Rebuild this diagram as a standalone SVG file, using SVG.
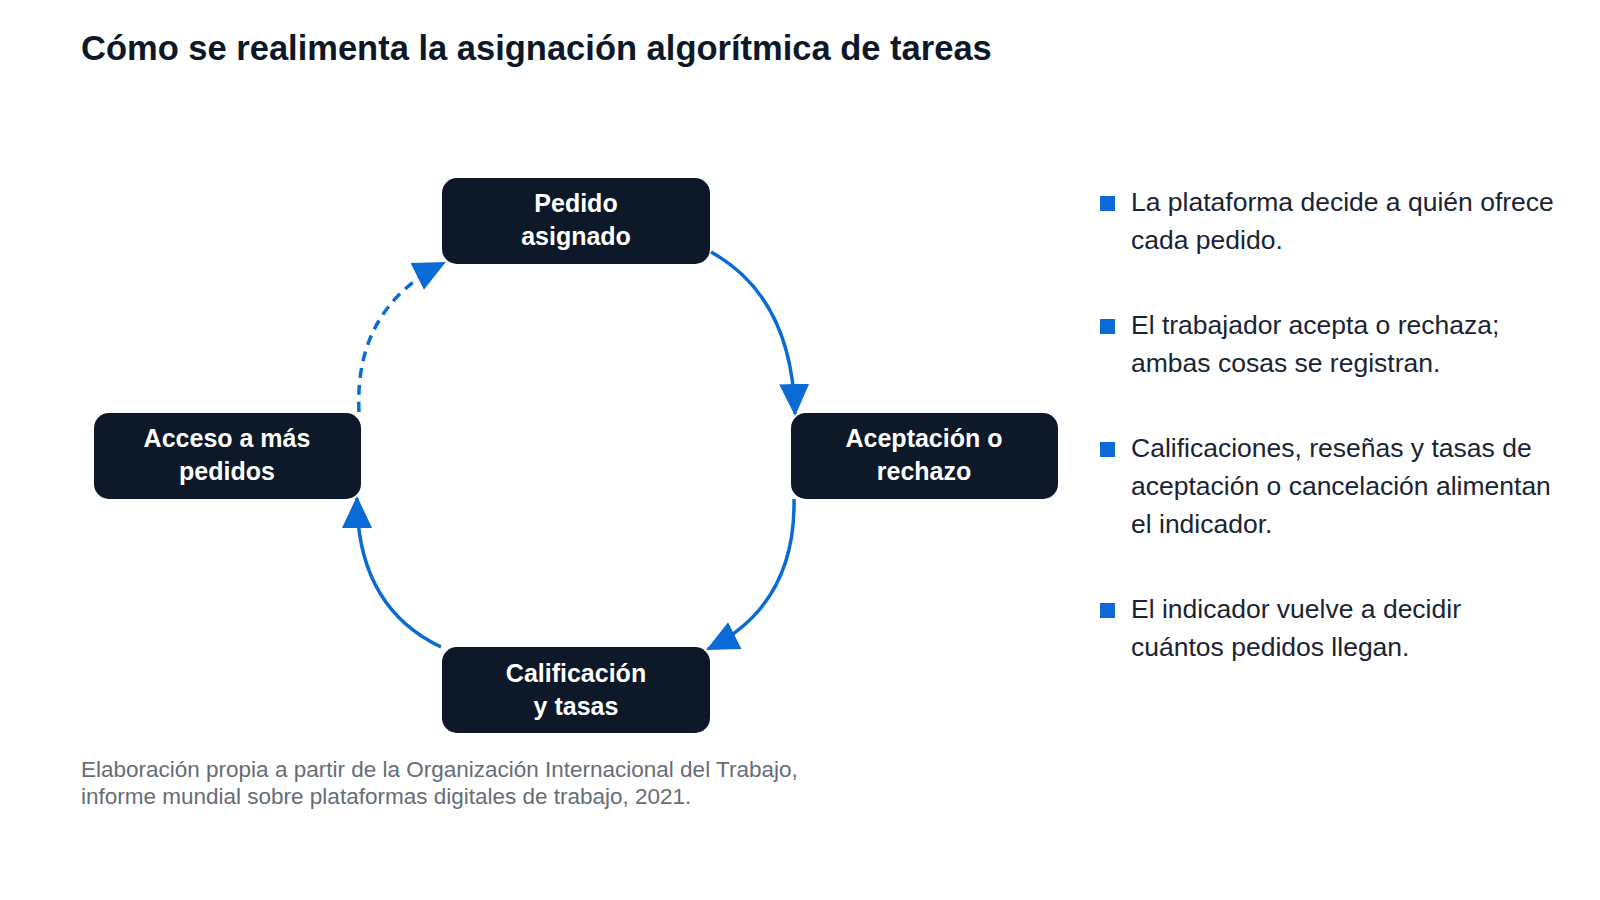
<svg xmlns="http://www.w3.org/2000/svg" width="1600" height="900" viewBox="0 0 1600 900">
<style>
.t{font-family:"Liberation Sans",Arial,sans-serif}
.title{font-size:34.5px;font-weight:bold;fill:#0d1829}
.node rect{fill:#0d1829}
.node text{font-size:25px;font-weight:bold;fill:#fff;text-anchor:middle}
.c{fill:none;stroke:#0a6bd6;stroke-width:3.5}
.b{font-size:26.5px;fill:#1a2433}
.sq{fill:#0a6bd6}
.note{font-size:22.5px;fill:#666d76}
</style>
<defs>
<marker id="a" viewBox="0 0 32 30" refX="30" refY="15" markerWidth="32" markerHeight="30" markerUnits="userSpaceOnUse" orient="auto"><path d="M0,0 L32,15 L0,30 z" fill="#0a6bd6"/></marker></defs>
<rect width="1600" height="900" fill="#fff"/>
<text class="t title" x="81" y="60">Cómo se realimenta la asignación algorítmica de tareas</text>
<g id="connectors">
<path class="c" d="M711,252 Q792,297 795,414" marker-end="url(#a)"/>
<path class="c" d="M794,499 Q796,605 708,649" marker-end="url(#a)"/>
<path class="c" d="M441,647 Q357,607 357,498" marker-end="url(#a)"/>
<path class="c" d="M359,412 Q354,308 444,263" stroke-dasharray="10,7" marker-end="url(#a)"/>
</g>
<g id="n1" class="node"><rect x="442" y="178" width="268" height="86" rx="15"/><text class="t" x="576" y="212">Pedido</text><text class="t" x="576" y="245">asignado</text></g>
<g id="n2" class="node"><rect x="791" y="413" width="267" height="86" rx="15"/><text class="t" x="924" y="447">Aceptación o</text><text class="t" x="924" y="480">rechazo</text></g>
<g id="n3" class="node"><rect x="442" y="647" width="268" height="86" rx="15"/><text class="t" x="576" y="682">Calificación</text><text class="t" x="576" y="715">y tasas</text></g>
<g id="n4" class="node"><rect x="94" y="413" width="267" height="86" rx="15"/><text class="t" x="227" y="447">Acceso a más</text><text class="t" x="227" y="480">pedidos</text></g>
<g id="bullets">
<rect class="sq" x="1100" y="196" width="15" height="15"/>
<text class="t b" x="1131" y="211">La plataforma decide a quién ofrece</text><text class="t b" x="1131" y="249">cada pedido.</text>
<rect class="sq" x="1100" y="319" width="15" height="15"/>
<text class="t b" x="1131" y="334">El trabajador acepta o rechaza;</text><text class="t b" x="1131" y="372">ambas cosas se registran.</text>
<rect class="sq" x="1100" y="442" width="15" height="15"/>
<text class="t b" x="1131" y="457">Calificaciones, reseñas y tasas de</text><text class="t b" x="1131" y="495">aceptación o cancelación alimentan</text><text class="t b" x="1131" y="533">el indicador.</text>
<rect class="sq" x="1100" y="603" width="15" height="15"/>
<text class="t b" x="1131" y="618">El indicador vuelve a decidir</text><text class="t b" x="1131" y="656">cuántos pedidos llegan.</text>
</g>
<text class="t note" x="81" y="777">Elaboración propia a partir de la Organización Internacional del Trabajo,</text>
<text class="t note" x="81" y="804">informe mundial sobre plataformas digitales de trabajo, 2021.</text>
</svg>
